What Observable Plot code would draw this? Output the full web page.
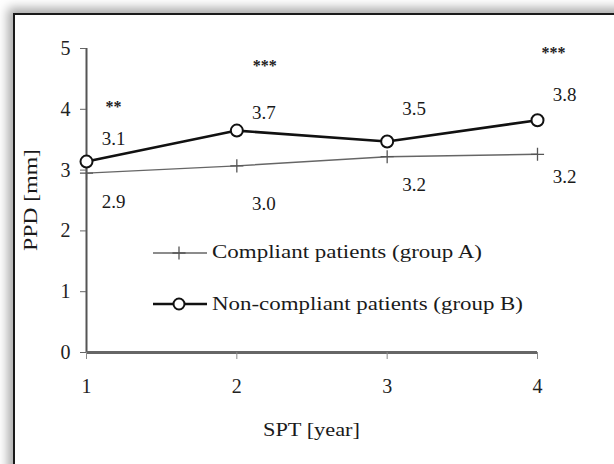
<!DOCTYPE html>
<html><head><meta charset="utf-8">
<script src="https://cdn.jsdelivr.net/npm/d3@7"></script>
<script src="https://cdn.jsdelivr.net/npm/@observablehq/plot@0.6"></script>
<style>
html,body{margin:0;padding:0;width:614px;height:464px;overflow:hidden;background:#fff;}
#frame{position:absolute;left:13px;top:13px;width:700px;height:600px;border:2px solid #1a1a1a;box-shadow:-2px -2px 10px 3px rgba(0,0,0,0.35);background:#fff;}
#chart{position:absolute;left:0;top:0;}
</style></head><body>
<div id="frame"></div>
<div id="chart"></div>
<script>
// ---- data ----
const years = [1, 2, 3, 4];
const groupA = [2.95, 3.07, 3.22, 3.26];   // compliant patients
const groupB = [3.14, 3.65, 3.47, 3.82];   // non-compliant patients
const labelsA = ["2.9", "3.0", "3.2", "3.2"];
const labelsB = ["3.1", "3.7", "3.5", "3.8"];
const stars = ["**", "***", "", "***"];
const yTicks = [0, 1, 2, 3, 4, 5];
const seriesNames = ["Compliant patients (group A)", "Non-compliant patients (group B)"];
const xTitle = "SPT [year]";
const yTitle = "PPD [mm]";

// ---- tables built from the arrays ----
const rowsA = years.map((y, i) => ({year: y, ppd: groupA[i], label: labelsA[i]}));
const rowsB = years.map((y, i) => ({year: y, ppd: groupB[i], label: labelsB[i], star: stars[i]}));

// per-label offsets (styling only)
const dyA = [29, 38, 28, 23];
const dyB = [-23, -18, -33, -25];
const dyS = [-55, -65, 0, -67];
const dxS = [27, 28, 0, 16];

const font = "Liberation Serif";
const ink = "#111";

const marks = [
  Plot.ruleX([1], {y1: 0, y2: 5, stroke: "#555", strokeWidth: 2}),
  Plot.ruleY([0], {x1: 1, x2: 4, stroke: "#666", strokeWidth: 3}),
  Plot.axisY({ticks: yTicks, tickSize: 6, tickPadding: 10, fontSize: 20, stroke: "#666", fill: "#222", label: null, tickFormat: d => String(d)}),
  Plot.axisX({ticks: years, tickSize: 7, tickPadding: 19, fontSize: 20, stroke: "#888", fill: "#222", label: null, tickFormat: d => String(d)}),
  Plot.line(rowsA, {x: "year", y: "ppd", stroke: "#666", strokeWidth: 1.4}),
  Plot.dot(rowsA, {x: "year", y: "ppd", symbol: "plus", r: 4.3, stroke: "#555", strokeWidth: 1.3}),
  Plot.line(rowsB, {x: "year", y: "ppd", stroke: ink, strokeWidth: 2.6}),
  Plot.dot(rowsB, {x: "year", y: "ppd", symbol: "circle", r: 6, stroke: ink, strokeWidth: 2, fill: "white"})
];
rowsA.forEach((d, i) => marks.push(Plot.text([d], {x: "year", y: "ppd", text: "label", dx: 27, dy: dyA[i], fontSize: 19, fill: "#1a1a1a"})));
rowsB.forEach((d, i) => marks.push(Plot.text([d], {x: "year", y: "ppd", text: "label", dx: 27, dy: dyB[i], fontSize: 19, fill: "#1a1a1a"})));
rowsB.forEach((d, i) => { if (d.star) marks.push(Plot.text([d], {x: "year", y: "ppd", text: "star", dx: dxS[i], dy: dyS[i], fontSize: 16, fill: "#222", fontWeight: "bold"})); });

const plot = Plot.plot({
  width: 614,
  height: 464,
  marginLeft: 86,
  marginRight: 77,
  marginTop: 48,
  marginBottom: 112,
  style: {fontFamily: font, background: "transparent", overflow: "visible"},
  x: {domain: [1, 4]},
  y: {domain: [0, 5]},
  marks
});
document.getElementById("chart").append(plot);

// ---- titles and legend overlay ----
const sx = plot.scale("x"), sy = plot.scale("y");
const svg = d3.select(plot);
svg.append("text")
  .attr("x", (sx.apply(1) + sx.apply(4)) / 2).attr("y", sy.apply(0) + 84)
  .attr("text-anchor", "middle").attr("font-family", font).attr("font-size", 18).attr("fill", "#1a1a1a")
  .attr("textLength", 97).attr("lengthAdjust", "spacingAndGlyphs")
  .text(xTitle);
svg.append("text")
  .attr("transform", `translate(37,${(sy.apply(0) + sy.apply(5)) / 2}) rotate(-90)`)
  .attr("text-anchor", "middle").attr("font-family", font).attr("font-size", 18).attr("fill", "#1a1a1a")
  .attr("textLength", 102).attr("lengthAdjust", "spacingAndGlyphs")
  .text(yTitle);

const lg = svg.append("g").attr("font-family", font).attr("font-size", 18).attr("fill", "#1a1a1a").attr("text-anchor", "start");
// group A entry
lg.append("line").attr("x1", 153).attr("x2", 207).attr("y1", 253).attr("y2", 253).attr("stroke", "#666").attr("stroke-width", 1.4);
lg.append("path").attr("transform", "translate(179,253)").attr("d", d3.symbol(d3.symbolPlus, 4.3 * 4.3 * Math.PI)()).attr("stroke", "#555").attr("stroke-width", 1.3).attr("fill", "none");
lg.append("text").attr("x", 212).attr("y", 258).attr("text-anchor", "start").attr("textLength", 270).attr("lengthAdjust", "spacingAndGlyphs").text(seriesNames[0]);
// group B entry
lg.append("line").attr("x1", 153).attr("x2", 207).attr("y1", 304).attr("y2", 304).attr("stroke", ink).attr("stroke-width", 2.6);
lg.append("circle").attr("cx", 179).attr("cy", 304).attr("r", 5.5).attr("stroke", ink).attr("stroke-width", 2).attr("fill", "white");
lg.append("text").attr("x", 212).attr("y", 310).attr("text-anchor", "start").attr("textLength", 311).attr("lengthAdjust", "spacingAndGlyphs").text(seriesNames[1]);
</script>
</body></html>
